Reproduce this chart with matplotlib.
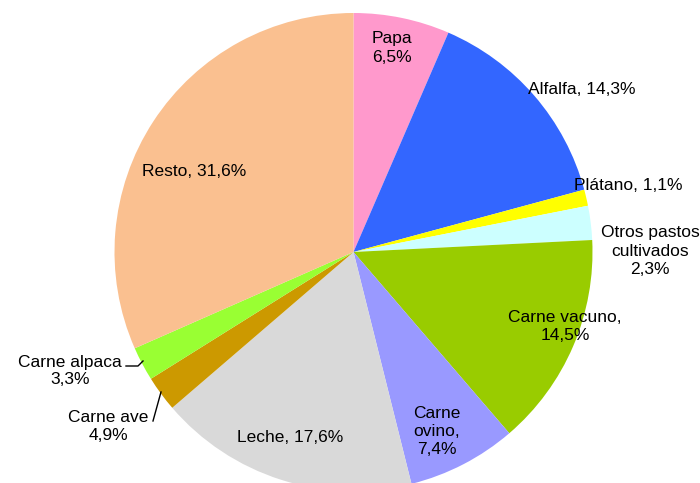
import matplotlib
matplotlib.use("Agg")
import matplotlib.pyplot as plt

# Data
categories = ["Papa", "Alfalfa", "Plátano", "Otros pastos cultivados", "Carne vacuno",
              "Carne ovino", "Leche", "Carne ave", "Carne alpaca", "Resto"]
slice_values = [6.5, 14.3, 1.1, 2.3, 14.5, 7.4, 17.6, 2.4, 2.3, 31.6]
label_texts = ["Papa\n6,5%", "Alfalfa, 14,3%", "Plátano, 1,1%",
               "Otros pastos\ncultivados\n2,3%", "Carne vacuno,\n14,5%",
               "Carne\novino,\n7,4%", "Leche, 17,6%", "Carne ave\n4,9%",
               "Carne alpaca\n3,3%", "Resto, 31,6%"]

# Styles / layout
colors = ["#FF99CC", "#3366FF", "#FFFF00", "#CCFFFF", "#99CC00",
          "#9999FF", "#D9D9D9", "#CC9900", "#99FF33", "#FAC090"]
W, H = 700, 483
label_pos = [(392, 48), (582, 89), (628, 185), (650, 251), (565, 326),
             (437, 431), (290, 437), (108, 427), (70, 371), (194, 172)]

plt.rcParams['font.family'] = ['Liberation Sans', 'DejaVu Sans']
fig = plt.figure(figsize=(7.0, 4.83), dpi=100)
ax = fig.add_axes([0, 0, 1, 1])

ax.pie(slice_values, colors=colors, startangle=90, counterclock=False,
       center=(353.5, H - 252), radius=239, frame=True,
       wedgeprops=dict(linewidth=0))
ax.set_xlim(0, W)
ax.set_ylim(0, H)
ax.set_aspect('equal')
ax.axis('off')

for txt, (x, y) in zip(label_texts, label_pos):
    ax.text(x, H - y, txt, ha='center', va='center', fontsize=12.5,
            color='black', linespacing=1.25)

# leader lines
ax.plot([126, 138, 143], [H - 366, H - 366, H - 361], color='black', lw=1)
ax.plot([153, 161], [H - 421, H - 392], color='black', lw=1)

fig.savefig("out.png", dpi=100)
